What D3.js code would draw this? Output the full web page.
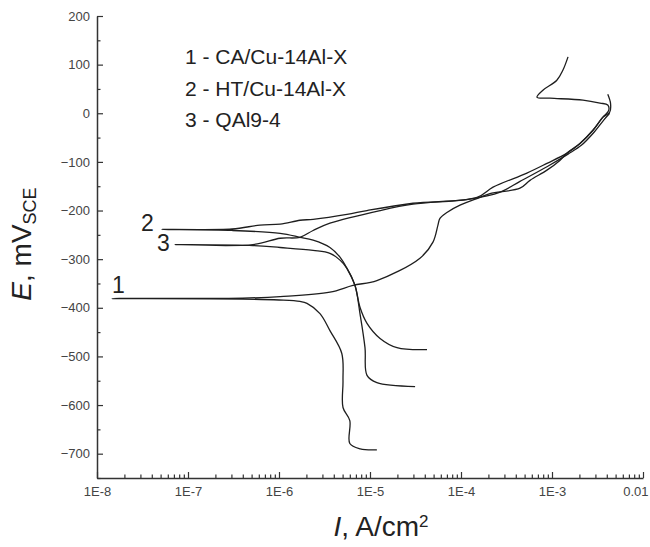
<!DOCTYPE html>
<html>
<head>
<meta charset="utf-8">
<script src="https://cdn.jsdelivr.net/npm/d3@7"></script>
<style>
  body { margin: 0; background: #fff; }
  svg { font-family: "Liberation Sans", Arial, sans-serif; }
</style>
</head>
<body>
<div id="chart"></div>
<script>
// polarization curves, [I (A/cm2), E (mV)] in drawing order
const curve1 = [
  [1.19e-5, -692], [7.8e-6, -690], [6.0e-6, -679], [6.0e-6, -632], [5.05e-6, -605],
  [5.05e-6, -550], [4.9e-6, -494], [3.63e-6, -447], [2.82e-6, -412], [2.03e-6, -391],
  [1.7e-6, -387], [1.0e-6, -384], [4e-7, -382], [1.46e-8, -381],
  [4e-7, -380], [1.03e-6, -377], [3.63e-6, -368], [6.5e-6, -354], [1.19e-5, -344],
  [3.54e-5, -298], [4.92e-5, -265], [5.58e-5, -230], [5.87e-5, -216], [7.0e-5, -204],
  [9.75e-5, -189], [1.62e-4, -173], [2.08e-4, -165], [4.45e-4, -154], [5.73e-4, -138],
  [8.8e-4, -117], [1.22e-3, -97], [1.46e-3, -82], [2.03e-3, -62], [2.82e-3, -35],
  [3.63e-3, -8], [4.2e-3, 6], [4.1e-3, 17], [3.37e-3, 21], [2.19e-3, 27],
  [9.5e-4, 31], [6.84e-4, 33], [8.0e-4, 48], [1.13e-3, 68], [1.32e-3, 89], [1.5e-3, 116]
];
const curve2 = [
  [4.23e-5, -486], [1.98e-5, -482], [1.29e-5, -463], [9.27e-6, -432], [7.76e-6, -399],
  [6.84e-6, -354], [5.58e-6, -319], [4.68e-6, -296], [3.63e-6, -276], [2.37e-6, -261],
  [1.7e-6, -255], [1.03e-6, -247], [3.05e-7, -241], [5.18e-8, -239],
  [3.05e-7, -238], [6.18e-7, -230], [1.03e-6, -228], [1.7e-6, -220], [2.37e-6, -218],
  [5.58e-6, -208], [9.27e-6, -200], [2.97e-5, -185], [1.5e-4, -173], [2.25e-4, -152],
  [5.3e-4, -123], [8.8e-4, -103], [1.46e-3, -82], [2.03e-3, -62], [2.82e-3, -35],
  [3.63e-3, -8], [4.3e-3, 2], [4.4e-3, 20], [4.1e-3, 39]
];
const curve3 = [
  [3.13e-5, -562], [1.19e-5, -554], [9.27e-6, -539], [8.81e-6, -482], [7.76e-6, -412],
  [6.84e-6, -354], [5.58e-6, -319], [4.68e-6, -302], [3.63e-6, -288], [2.37e-6, -282],
  [1.03e-6, -276], [5.18e-7, -272], [7.2e-8, -270],
  [5.18e-7, -270], [1.03e-6, -257], [1.7e-6, -255], [2.37e-6, -241], [3.63e-6, -226],
  [1.29e-5, -200], [2.97e-5, -187], [1.2e-4, -177], [2.7e-4, -162], [4.45e-4, -140],
  [8.8e-4, -110], [1.5e-3, -84], [2.1e-3, -66], [2.9e-3, -39], [3.7e-3, -14], [4.3e-3, 0]
];

const legendLabels = ["1 - CA/Cu-14Al-X", "2 - HT/Cu-14Al-X", "3 - QAl9-4"];
const xTicks = [1e-8, 1e-7, 1e-6, 1e-5, 1e-4, 1e-3, 1e-2];
const xTickLabels = ["1E-8", "1E-7", "1E-6", "1E-5", "1E-4", "1E-3", "0.01"];
const yTicks = [200, 100, 0, -100, -200, -300, -400, -500, -600, -700];

const width = 650, height = 547;
const svg = d3.select("#chart").append("svg").attr("width", width).attr("height", height);

const x = d3.scaleLog().domain([1e-8, 1e-2]).range([97, 643]);
const y = d3.scaleLinear().domain([-750, 200]).range([478, 16]);

// minor ticks
const xMinor = [];
xTicks.slice(0, -1).forEach(d => { for (let k = 2; k < 10; k++) xMinor.push(d * k); });
const yMinor = d3.range(150, -760, -100);

const axisColor = "#333";

svg.append("g").attr("transform", "translate(0,478)")
  .call(d3.axisBottom(x).tickValues(xMinor).tickSize(-3.5).tickFormat(""))
  .call(g => g.select(".domain").remove());
svg.append("g").attr("transform", "translate(97,0)")
  .call(d3.axisLeft(y).tickValues(yMinor).tickSize(-3.5).tickFormat(""))
  .call(g => g.select(".domain").remove());

const xAxis = svg.append("g").attr("transform", "translate(0,478)")
  .call(d3.axisBottom(x).tickValues(xTicks).tickSize(-6).tickSizeOuter(0).tickPadding(9)
    .tickFormat((d, i) => xTickLabels[i]));
const yAxis = svg.append("g").attr("transform", "translate(97,0)")
  .call(d3.axisLeft(y).tickValues(yTicks).tickSize(-6).tickSizeOuter(0).tickPadding(7));

svg.selectAll(".tick line").attr("stroke", axisColor).attr("stroke-width", 1.2);
svg.selectAll(".domain").attr("stroke", axisColor).attr("stroke-width", 1.5);
svg.selectAll(".tick text").attr("fill", "#444").style("font-size", "13px");
// last label sits against the right edge
xAxis.selectAll(".tick text").filter(d => d === 1e-2).attr("text-anchor", "end").attr("dx", 5);

// curves
const line = d3.line().x(d => x(d[0])).y(d => y(d[1])).curve(d3.curveCatmullRom.alpha(0.5));
[curve1, curve2, curve3].forEach(c => {
  svg.append("path").datum(c)
    .attr("d", line)
    .attr("fill", "none")
    .attr("stroke", "#1e1e1e")
    .attr("stroke-width", 1.3)
    .attr("stroke-linejoin", "round");
});

// curve numbers
svg.append("text").attr("x", 112).attr("y", 293).style("font-size", "23px").attr("fill", "#222").text("1");
svg.append("text").attr("x", 141).attr("y", 231).style("font-size", "23px").attr("fill", "#222").text("2");
svg.append("text").attr("x", 157).attr("y", 251).style("font-size", "23px").attr("fill", "#222").text("3");

// legend
svg.selectAll(".legend").data(legendLabels).enter().append("text")
  .attr("x", 185)
  .attr("y", (d, i) => 64 + i * 31.5)
  .style("font-size", "21px")
  .attr("fill", "#222")
  .text(d => d);

// axis titles
const yt = svg.append("text")
  .attr("transform", "translate(31,244) rotate(-90)")
  .attr("text-anchor", "middle")
  .style("font-size", "28px")
  .attr("fill", "#222");
yt.append("tspan").style("font-style", "italic").text("E");
yt.append("tspan").text(", mV");
yt.append("tspan").attr("dy", "0.3em").style("font-size", "18px").text("SCE");

const xt = svg.append("text")
  .attr("x", 381).attr("y", 536)
  .attr("text-anchor", "middle")
  .style("font-size", "28px")
  .attr("fill", "#222");
xt.append("tspan").style("font-style", "italic").text("I");
xt.append("tspan").text(", A/cm");
xt.append("tspan").attr("dy", "-0.55em").style("font-size", "17px").text("2");
</script>
</body>
</html>
